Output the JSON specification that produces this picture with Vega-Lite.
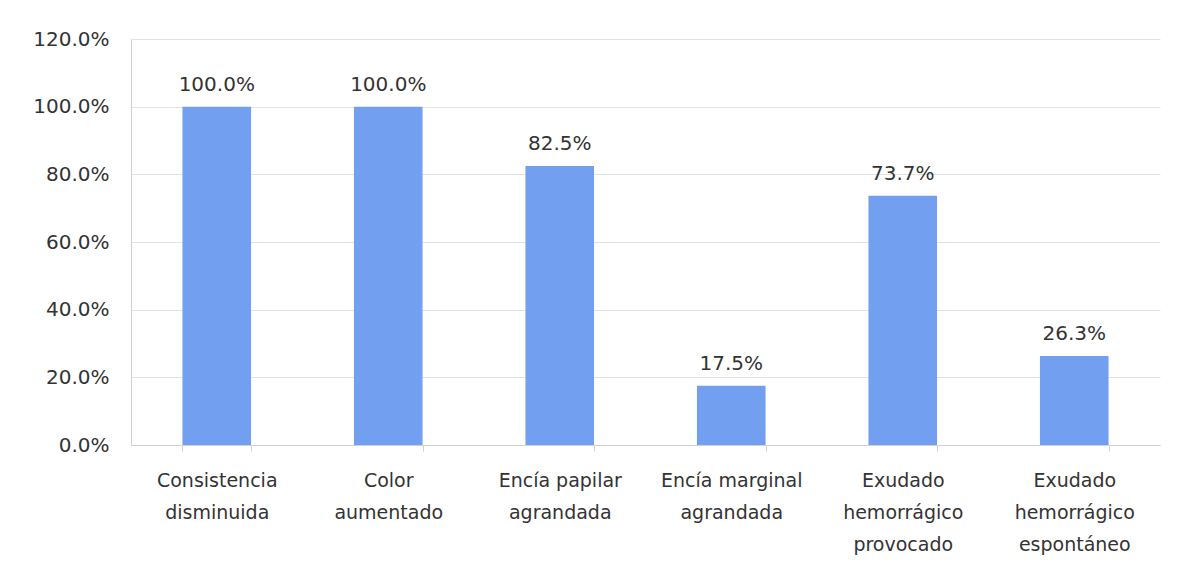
{
  "$schema": "https://vega.github.io/schema/vega-lite/v6.json",
  "autosize": {"type": "none"},
  "width": 1029,
  "height": 406,
  "padding": {"left": 131, "top": 39, "right": 25, "bottom": 126},
  "background": "white",
  "data": {"values": [
    {"cat": "Consistencia|disminuida", "v": 1.0, "lab": "100.0%"},
    {"cat": "Color|aumentado", "v": 1.0, "lab": "100.0%"},
    {"cat": "Encía papilar|agrandada", "v": 0.825, "lab": "82.5%"},
    {"cat": "Encía marginal|agrandada", "v": 0.175, "lab": "17.5%"},
    {"cat": "Exudado|hemorrágico|provocado", "v": 0.737, "lab": "73.7%"},
    {"cat": "Exudado|hemorrágico|espontáneo", "v": 0.263, "lab": "26.3%"}
  ]},
  "encoding": {
    "x": {"field": "cat", "type": "nominal", "sort": null,
      "scale": {"paddingInner": 0.6, "paddingOuter": 0.3},
      "axis": {"title": null, "labelAngle": 0, "labelExpr": "split(datum.label, '|')",
        "labelFont": "DejaVu Sans", "labelFontSize": 19, "labelColor": "#333", "labelLineHeight": 32,
        "labelPadding": 20, "labelBaseline": "top", "domainColor": "#d0d0d0", "tickColor": "#d0d0d0",
        "tickBand": "extent", "tickSize": 6, "labelLimit": 300}},
    "y": {"field": "v", "type": "quantitative",
      "scale": {"domain": [0, 1.2]},
      "axis": {"title": null, "format": ".1%", "values": [0, 0.2, 0.4, 0.6, 0.8, 1.0, 1.2],
        "labelFont": "DejaVu Sans", "labelFontSize": 20, "labelColor": "#333", "labelPadding": 22,
        "domainColor": "#d0d0d0", "ticks": false, "gridColor": "#e2e2e2"}}
  },
  "layer": [
    {"mark": {"type": "bar", "color": "#729ff0"}},
    {"mark": {"type": "text", "baseline": "bottom", "dy": -12, "font": "DejaVu Sans", "fontSize": 20, "color": "#333"},
     "encoding": {"text": {"field": "lab"}}}
  ],
  "config": {"view": {"stroke": null}}
}
